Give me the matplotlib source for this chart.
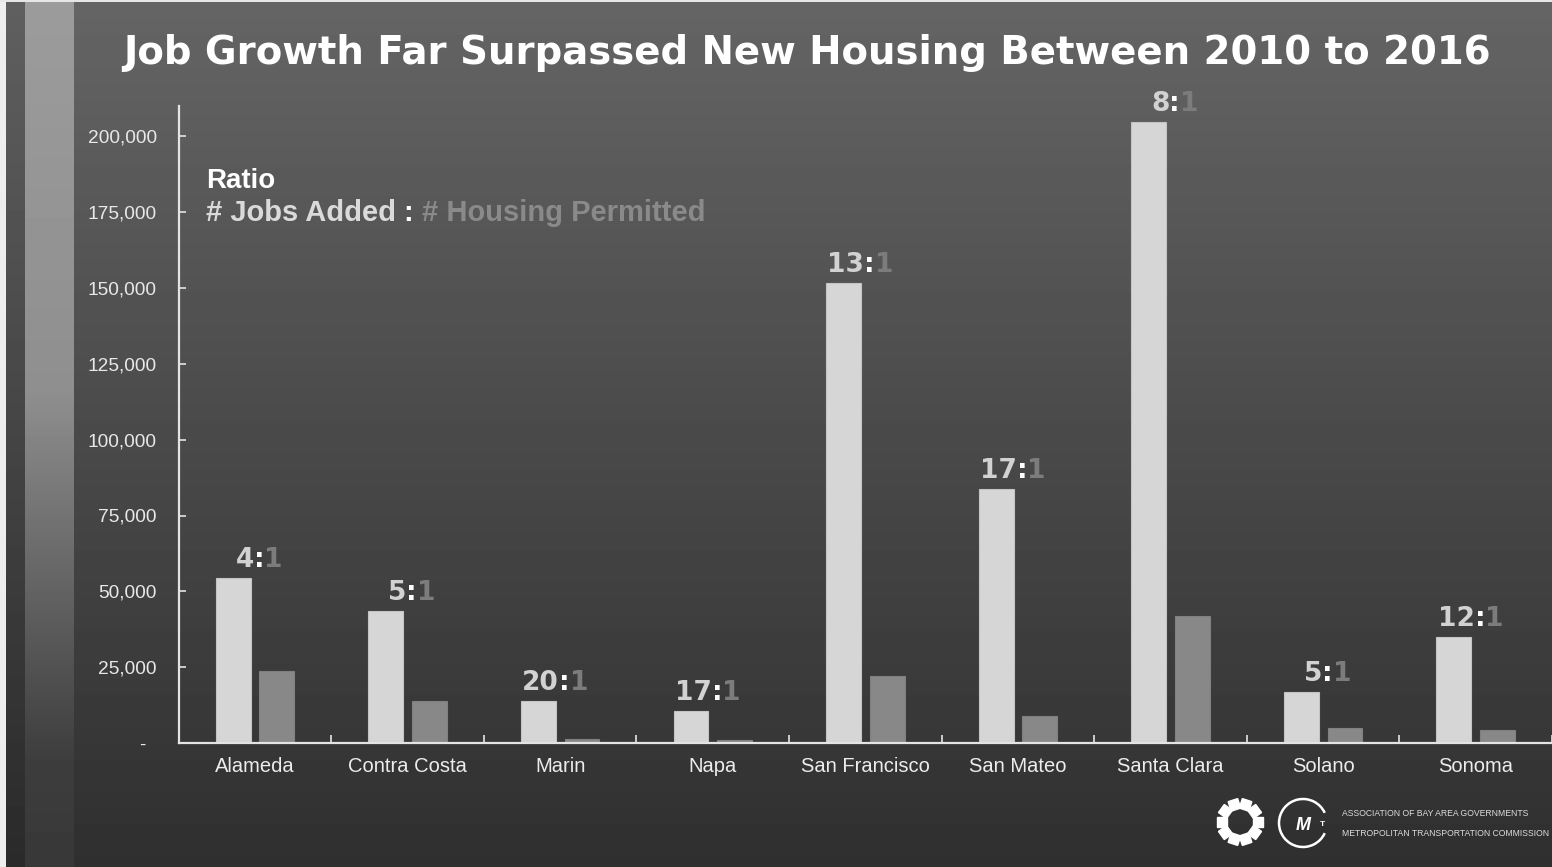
import numpy as np
import matplotlib
matplotlib.use('Agg')
import matplotlib.pyplot as plt
from matplotlib.patches import Rectangle, Arc

# data
counties = ['Alameda', 'Contra Costa', 'Marin', 'Napa', 'San Francisco',
            'San Mateo', 'Santa Clara', 'Solano', 'Sonoma']
jobs_added = [54400, 43500, 13800, 10500, 151600, 83700, 204600, 16800, 34900]
housing_permitted = [23700, 13800, 1300, 1100, 22000, 8900, 41800, 4900, 4300]
ratios = [4, 5, 20, 17, 13, 17, 8, 5, 12]
y_ticks = [0, 25000, 50000, 75000, 100000, 125000, 150000, 175000, 200000]

W, H = 1552, 867
fig = plt.figure(figsize=(W / 100, H / 100), dpi=100)
plt.rcParams['font.family'] = ['Liberation Sans', 'DejaVu Sans']

# background with gradient and left stripe
t = np.linspace(0, 1, H)[:, None]
main = 0.395 - 0.21 * t
stripe = np.interp(t, [0, 0.45, 0.88, 1.0], [0.61, 0.56, 0.24, 0.22])
edge = main - 0.02
cols = np.arange(W)[None, :]
img = np.where(cols < 25, edge, main)
img = np.where((cols >= 25) & (cols < 74), stripe, img)
img = np.where(cols < 6, 0.93, img)
img[:2, :] = 0.9
bg = fig.add_axes([0, 0, 1, 1])
bg.imshow(img, cmap='gray', vmin=0, vmax=1, extent=(0, W, H, 0), aspect='auto')
bg.set_xlim(0, W)
bg.set_ylim(H, 0)
bg.axis('off')


def fx(x):
    return x / W


def fy(y):
    return 1 - y / H


# main axes
ax = fig.add_axes([fx(179), fy(743), 1 - fx(179), (743 - 106) / H])
ax.set_facecolor('none')
x = np.arange(len(counties))
bw = 0.228
ax.bar(x - 0.143, jobs_added, bw, color='#d6d6d6', edgecolor='#c4c4c4', linewidth=0.8)
ax.bar(x + 0.143, housing_permitted, bw, color='#888888', edgecolor='#808080', linewidth=0.8)

ax.set_xlim(-0.498, 8.458)
ax.set_ylim(0, 210000)
for s in ['top', 'right']:
    ax.spines[s].set_visible(False)
for s in ['left', 'bottom']:
    ax.spines[s].set_color('#e4e4e4')
    ax.spines[s].set_linewidth(1.6)

ax.set_xticks(x)
ax.set_xticklabels(counties, fontsize=14.5, color='#ececec')
ax.set_xticks(x + 0.5, minor=True)
ax.tick_params(axis='x', which='major', length=0, pad=10)
ax.tick_params(axis='x', which='minor', direction='in', length=6, color='#e4e4e4', width=1.2)

ax.set_yticks(y_ticks)
ax.set_yticklabels(['-  '] + [f'{v:,}' for v in y_ticks[1:]], fontsize=13.8, color='#e8e8e8')
ax.tick_params(axis='y', direction='in', length=5, color='#e4e4e4', width=1.2, pad=16)

# ratio labels above job bars
for i in range(len(counties)):
    colon = ax.annotate(':', xy=(x[i], jobs_added[i]), xytext=(3, 8),
                        textcoords='offset points', ha='center', va='baseline',
                        color='white', fontsize=19, fontweight='bold', family='DejaVu Sans')
    ax.annotate(str(ratios[i]), xy=(0, 0), xycoords=colon, ha='right', va='bottom',
                color='#d2d2d2', fontsize=19, fontweight='bold', family='DejaVu Sans')
    ax.annotate('1', xy=(1, 0), xycoords=colon, ha='left', va='bottom',
                color='#7c7c7c', fontsize=19, fontweight='bold', family='DejaVu Sans')

# title
fig.text(fx(807), fy(53), 'Job Growth Far Surpassed New Housing Between 2010 to 2016',
         ha='center', va='center', color='white', fontsize=27.8, fontweight='bold',
         family='DejaVu Sans')

# ratio legend
fig.text(fx(206), fy(188), 'Ratio', ha='left', va='baseline', color='white',
         fontsize=20, fontweight='bold')
t1 = fig.text(fx(206), fy(221), '# Jobs Added ', ha='left', va='baseline',
              color='#dadada', fontsize=21, fontweight='bold')
t2 = ax.annotate(': ', xy=(1, 0), xycoords=t1, ha='left', va='bottom',
                 color='white', fontsize=21, fontweight='bold')
ax.annotate('# Housing Permitted', xy=(1, 0), xycoords=t2, ha='left', va='bottom',
            color='#8a8a8a', fontsize=21, fontweight='bold')

# logos bottom right
gx, gy = 1240, 822
for a in np.linspace(0, 2 * np.pi, 10, endpoint=False):
    cx, cy = gx + 18 * np.cos(a), gy + 18 * np.sin(a)
    bg.add_patch(Rectangle((cx - 5, cy - 5), 10, 10, color='white',
                           angle=np.degrees(a), rotation_point='center'))
bg.add_patch(Arc((1303, 823), 48, 48, theta1=25, theta2=335, color='white', linewidth=1.8))
bg.text(1303, 825, 'M', ha='center', va='center', color='white', fontsize=13,
        fontweight='bold', style='italic')
bg.text(1322, 824, 'T', ha='center', va='center', color='white', fontsize=6, fontweight='bold')
bg.text(1342, 813, 'ASSOCIATION OF BAY AREA GOVERNMENTS', ha='left', va='center',
        color='#dcdcdc', fontsize=6.2)
bg.text(1342, 833, 'METROPOLITAN TRANSPORTATION COMMISSION', ha='left', va='center',
        color='#dcdcdc', fontsize=6.2)

fig.savefig('out.png', dpi=100)
